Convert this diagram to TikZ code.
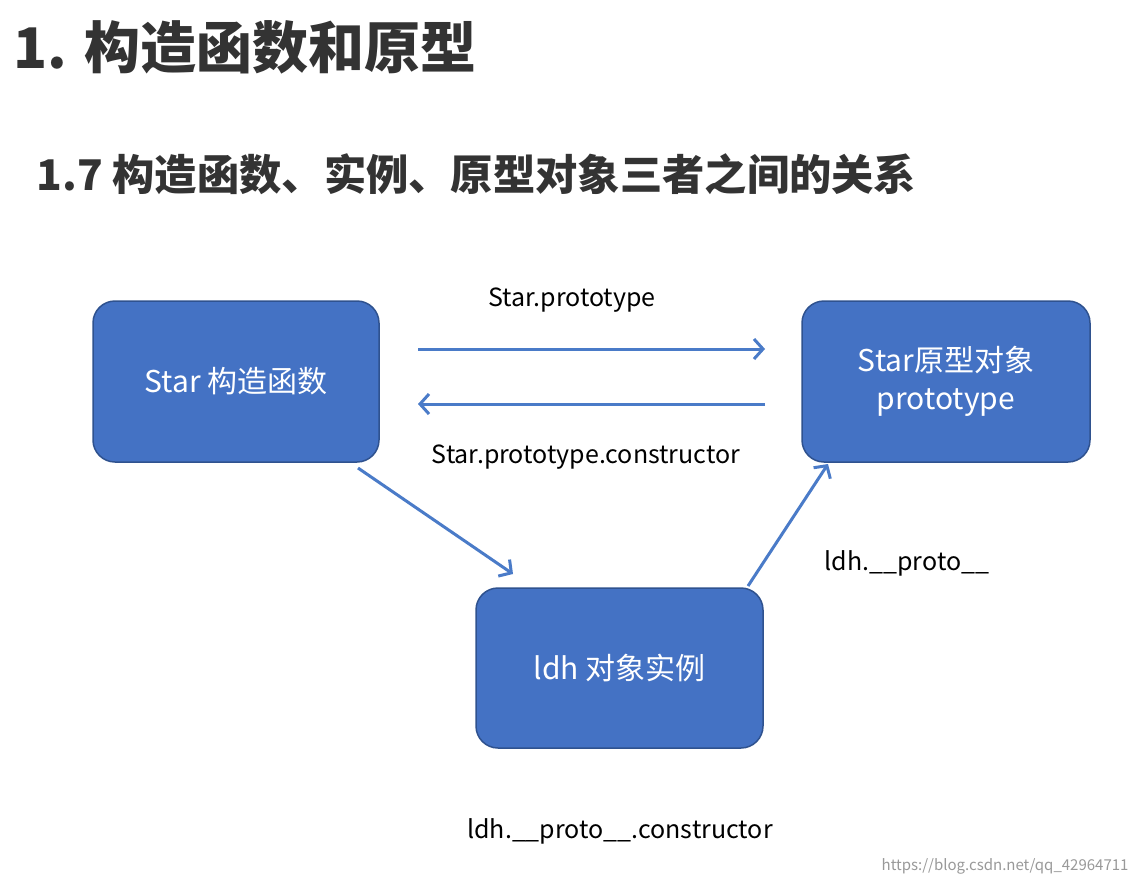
\documentclass[tikz,border=0pt]{standalone}
\usepackage{fontspec}
\setmainfont{Noto Sans CJK SC}
\usetikzlibrary{arrows.meta}
\definecolor{boxfill}{HTML}{4472C4}
\definecolor{boxline}{HTML}{2F528F}
\definecolor{arr}{HTML}{4A7BC8}
\tikzset{
  box/.style={draw=boxline, line width=1.5pt, fill=boxfill, rounded corners=22pt, text=white, font=\fontsize{30}{38}\selectfont, align=center, inner sep=0pt},
  conn/.style={draw=arr, line width=3pt, -{Straight Barb[length=9pt,width=20pt]}},
  lbl/.style={font=\fontsize{25}{30}\selectfont, text=black}
}
\begin{document}
\begin{tikzpicture}[x=1pt,y=-1pt]
\useasboundingbox[fill=white] (0,0) rectangle (1140,884);
\node[anchor=west, font=\fontsize{56}{62}\selectfont\bfseries, text=black!80] (t1) at (10,47) {1. 构造函数和原型};
\node[anchor=west, font=\fontsize{42.3}{48}\selectfont\bfseries, text=black!80] (t2) at (33,174) {1.7 构造函数、实例、原型对象三者之间的关系};
\node[box, minimum width=286pt, minimum height=161pt] (star) at (236,381.5) {Star 构造函数};
\node[box, minimum width=288pt, minimum height=161pt] (proto) at (946,381.5) {Star原型对象\\prototype};
\node[box, minimum width=287pt, minimum height=160pt] (ldh) at (619.5,668) {ldh 对象实例};
\coordinate (a1) at (418,349); \coordinate (b1) at (765,349);
\coordinate (a2) at (765,404); \coordinate (b2) at (418,404);
\coordinate (a3) at (358,468); \coordinate (b3) at (513,574);
\coordinate (a4) at (748,586); \coordinate (b4) at (828,464);
\draw[conn] (a1) -- (b1);
\draw[conn] (a2) -- (b2);
\draw[conn] (a3) -- (b3);
\draw[conn] (a4) -- (b4);
\node[lbl] (l1) at (572,300) {Star.prototype};
\node[lbl] (l2) at (586,457) {Star.prototype.constructor};
\node[lbl] (l3) at (907,563) {ldh.\_\_proto\_\_};
\node[lbl] (l4) at (620,831) {ldh.\_\_proto\_\_.constructor};
\node[anchor=east, font=\fontsize{15}{18}\selectfont, text=black!40] (wm) at (1132,866) {https://blog.csdn.net/qq\_42964711};
\end{tikzpicture}
\end{document}
